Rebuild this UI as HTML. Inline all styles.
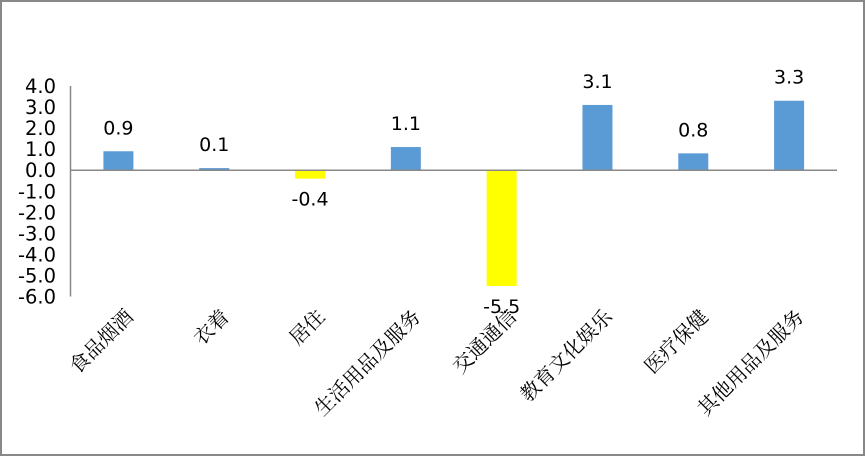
<!DOCTYPE html>
<html><head><meta charset="utf-8"><style>
body{margin:0;background:#fff}
svg{display:block}
text{font-family:"DejaVu Sans","Liberation Sans",sans-serif}
.cat{font-family:"Noto Serif CJK SC","Liberation Serif",serif;font-size:20px}
</style></head><body>
<svg width="866" height="457">
<rect x="1" y="1" width="863" height="454" fill="#fff" stroke="#888" stroke-width="2"/>
<g id="g"></g>
</svg>
<script>
const categories=["食品烟酒","衣着","居住","生活用品及服务","交通通信","教育文化娱乐","医疗保健","其他用品及服务"];
const values=[0.9,0.1,-0.4,1.1,-5.5,3.1,0.8,3.3];
const ticks=[4,3,2,1,0,-1,-2,-3,-4,-5,-6];
const NS="http://www.w3.org/2000/svg",g=document.getElementById('g');
const x0=70.5,x1=837,yMax=4,yMin=-6,yTop=86,yBot=296.5;
const y=v=>yTop+(yMax-v)/(yMax-yMin)*(yBot-yTop);
const bw=(x1-x0)/categories.length;
const xc=i=>x0+bw*(i+0.5);
function el(t,a){const e=document.createElementNS(NS,t);for(const k in a)e.setAttribute(k,a[k]);g.appendChild(e);return e;}
ticks.forEach(t=>{const e=el('text',{x:56,y:y(t)+7,'text-anchor':'end','font-size':19.5});e.textContent=t.toFixed(1);

});
values.forEach((v,i)=>{
 const top=Math.min(y(v),y(0)),h=Math.abs(y(v)-y(0));
 const r=el('rect',{x:xc(i)-15,y:top,width:30,height:Math.max(h,1),fill:v<0?'#FFFF00':'#5B9BD5'});
 
 
 const ty=v>=0?y(v)-17:y(v)+27;
 const t=el('text',{x:xc(i),y:ty,'text-anchor':'middle','font-size':19});t.textContent=v.toFixed(1);
 
 
 const c=el('text',{class:'cat','text-anchor':'end',transform:`translate(${xc(i)+16},${318}) rotate(-45)`});c.textContent=categories[i];
 
 
});
const ya=el('line',{x1:x0,x2:x0,y1:yTop,y2:yBot,stroke:'#888','stroke-width':1.5});


const xa=el('line',{x1:x0,x2:x1,y1:y(0),y2:y(0),stroke:'#888','stroke-width':1.5});


</script>
</body></html>
